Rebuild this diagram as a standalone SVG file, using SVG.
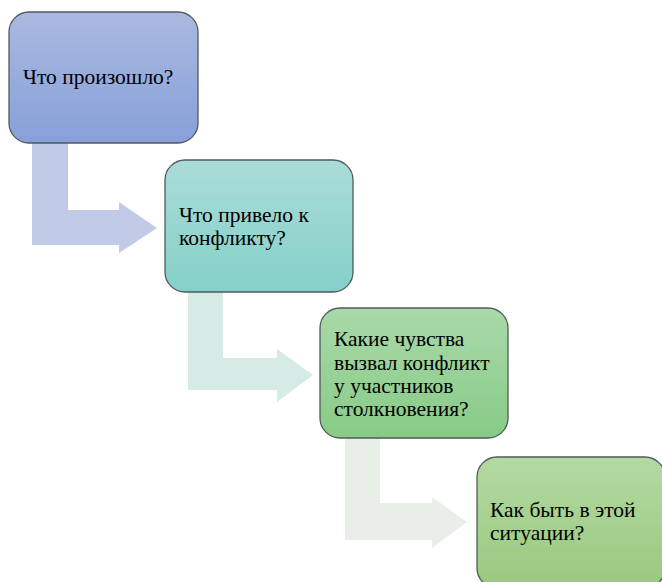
<svg xmlns="http://www.w3.org/2000/svg" width="662" height="582" viewBox="0 0 662 582">
<defs>
<linearGradient id="g1" x1="0" y1="0" x2="0" y2="1"><stop offset="0" stop-color="#aab9e0"/><stop offset="1" stop-color="#87a0d9"/></linearGradient>
<linearGradient id="g2" x1="0" y1="0" x2="0" y2="1"><stop offset="0" stop-color="#aadcd8"/><stop offset="1" stop-color="#85d0c9"/></linearGradient>
<linearGradient id="g3" x1="0" y1="0" x2="0" y2="1"><stop offset="0" stop-color="#a9d9a9"/><stop offset="1" stop-color="#87cb87"/></linearGradient>
<linearGradient id="g4" x1="0" y1="0" x2="0" y2="1"><stop offset="0" stop-color="#b4d9a3"/><stop offset="1" stop-color="#98c97e"/></linearGradient>
</defs>
<style>
.box{stroke:#505a5a;stroke-width:1.3}
text{font-family:"Liberation Serif","Times New Roman",serif;font-size:21.5px;fill:#000}
</style>
<rect width="662" height="582" fill="#ffffff"/>
<g id="connectors">
<path d="M32,143 H68 V210 H119 V202 L157,228 L119,253 V245 H32 Z" fill="#c1cae6"/>
<path d="M188,292 H223 V358 H277 V349 L313,375 L277,402 V390 H188 Z" fill="#d6ebe6"/>
<path d="M345,438 H380 V503 H432 V497 L467,522 L432,548 V540 H345 Z" fill="#e7efe7"/>
</g>
<g id="node1">
<rect class="box" x="9" y="12" width="189" height="131" rx="20" fill="url(#g1)"/>
<text x="23" y="84">Что произошло?</text>
</g>
<g id="node2">
<rect class="box" x="165" y="160" width="188" height="132" rx="20" fill="url(#g2)"/>
<text x="179" y="222">Что привело к</text>
<text x="179" y="245">конфликту?</text>
</g>
<g id="node3">
<rect class="box" x="320" y="308" width="188" height="130" rx="20" fill="url(#g3)"/>
<text x="334" y="346">Какие чувства</text>
<text x="334" y="370">вызвал конфликт</text>
<text x="334" y="393">у участников</text>
<text x="334" y="416">столкновения?</text>
</g>
<g id="node4">
<rect class="box" x="477" y="457" width="188" height="131" rx="20" fill="url(#g4)"/>
<text x="490" y="517">Как быть в этой</text>
<text x="490" y="540">ситуации?</text>
</g>
</svg>
